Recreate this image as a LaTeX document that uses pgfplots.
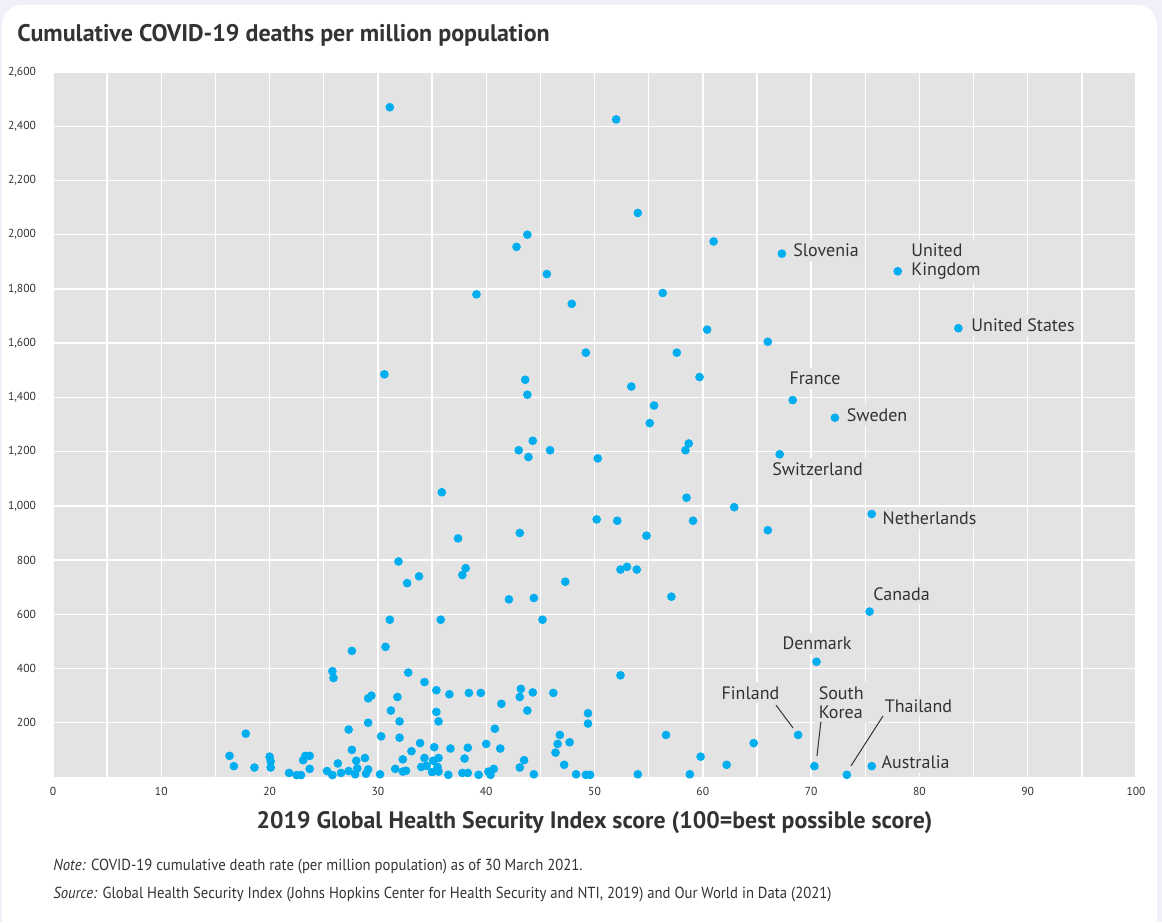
\documentclass[border=0pt]{standalone}
\usepackage{fontspec}
\setmainfont{PT Sans}
\newfontfamily\narrowfont[FakeStretch=0.92]{PT Sans}
\usepackage{pgfplots}
\pgfplotsset{compat=1.18}
\definecolor{plotbg}{RGB}{227,227,227}
\definecolor{dotblue}{RGB}{0,174,239}
\definecolor{txt}{RGB}{51,51,51}
\definecolor{framebg}{RGB}{240,240,248}
\tikzset{label node/.style={fill=plotbg, inner sep=2pt, text=txt, font=\fontsize{9}{9.6}\selectfont}}

\begin{document}
\begin{tikzpicture}[x=1pt,y=1pt]
% whole picture: 1162 x 922 px at 0.5pt per px, axis corner at px (53,777)
\useasboundingbox (-26.5,-72.5) rectangle (554.5,388.5);
\fill[framebg] (-26.5,-72.5) rectangle (554.5,388.5);
\fill[white, rounded corners=10pt] (-25.5,-80) rectangle (552,386);

\node[anchor=base west, inner sep=0, text=txt, font=\fontsize{12}{14}\selectfont\bfseries]
  at (-18,367.5) {Cumulative COVID-19 deaths per million population};

\begin{axis}[
  at={(0pt,0pt)}, anchor=south west,
  width=541.5pt, height=352.5pt, scale only axis,
  xmin=0, xmax=100, ymin=0, ymax=2600,
  axis background/.style={fill=plotbg},
  axis line style={draw=none},
  xtick={0,10,...,100},
  minor xtick={5,15,...,95},
  ytick={200,400,...,2600},
  grid=both,
  major grid style={white, line width=0.7pt},
  minor grid style={white, line width=0.7pt},
  major tick length=0pt, minor tick length=0pt,
  tick style={draw=none},
  tick label style={font=\fontsize{5.8}{6}\selectfont, text=txt},
  /pgf/number format/assume math mode=true,
  /pgf/number format/1000 sep={,},
  yticklabel style={xshift=-5pt},
  xticklabel style={yshift=-1.5pt},
  clip=false,
]

% labels first so the dots sit on top
\node[label node, anchor=west] at (axis cs:67.96,1943) {Slovenia};
\node[label node, anchor=west, align=left] at (axis cs:78.85,1901) {United\\Kingdom};
\node[label node, anchor=west] at (axis cs:84.4,1667) {United States};
\node[label node, anchor=west] at (axis cs:67.6,1471) {France};
\node[label node, anchor=west] at (axis cs:72.9,1335) {Sweden};
\node[label node] at (axis cs:70.6,1136) {Switzerland};
\node[label node, anchor=west] at (axis cs:76.2,955) {Netherlands};
\node[label node, anchor=west] at (axis cs:75.35,675) {Canada};
\node[label node] at (axis cs:70.55,494) {Denmark};
\node[label node] at (axis cs:64.4,310) {Finland};
\node[label node, anchor=west, align=left] at (axis cs:70.3,275) {South\\Korea};
\node[label node, anchor=west] at (axis cs:76.4,262) {Thailand};
\node[label node, anchor=west] at (axis cs:76.1,55) {Australia};

\draw[txt, line width=0.5pt] (axis cs:66.76,265) -- (axis cs:68.33,181);
\draw[txt, line width=0.5pt] (axis cs:70.9,203) -- (axis cs:70.54,77);
\draw[txt, line width=0.5pt] (axis cs:76.64,225) -- (axis cs:73.68,41);

\addplot[only marks, mark=*, mark size=1.95pt, color=dotblue,
  mark options={draw=none, fill=dotblue}] coordinates {
  % labelled countries
  (67.3,1930) (78.0,1865) (83.6,1655) (68.3,1390) (72.2,1325) (67.1,1190)
  (75.6,970) (75.4,610) (70.5,425) (68.8,155) (70.3,40) (73.3,8) (75.6,40)
  % upper part
  (31.1,2470) (52.0,2425) (54.0,2080) (61.0,1975) (43.8,2000) (42.8,1955)
  (45.6,1855) (39.1,1780) (47.9,1745) (56.3,1785) (60.4,1650) (49.2,1565)
  (57.6,1565) (66.0,1605) (30.6,1485) (43.6,1465) (53.4,1440) (59.7,1475)
  (43.8,1410) (55.5,1370) (55.1,1305) (44.3,1240) (58.7,1230) (43.0,1205)
  (45.9,1205) (58.4,1205) (43.9,1180) (50.3,1175) (35.9,1050) (58.5,1030)
  (62.9,995) (50.2,950) (52.1,945) (59.1,945) (66.0,910) (43.1,900)
  (54.8,890) (37.4,880) (31.9,795) (38.1,770) (37.8,745) (33.8,740)
  (32.7,715) (47.3,720) (52.4,765) (53.0,775) (53.9,765) (57.1,665)
  (42.1,655) (44.4,660) (31.1,580) (35.8,580) (45.2,580) (27.6,465)
  (30.7,480)
  % lower cluster, left
  (25.8,390) (25.9,365) (32.8,385) (34.3,350) (35.4,320) (29.4,300)
  (29.1,290) (31.8,295) (31.2,245) (35.4,240) (35.6,205) (29.1,200)
  (32.0,205) (27.3,175) (30.3,150) (32.0,145) (33.9,125) (35.2,110)
  (27.6,100) (33.1,95) (34.3,70) (32.3,65) (26.3,50) (28.0,60)
  (28.8,70) (35.1,60) (17.8,160) (16.3,78) (16.7,40) (18.6,35)
  (20.0,75) (20.1,58) (20.1,35) (21.8,15) (22.5,7) (22.9,7)
  (23.1,62) (23.3,78) (23.7,78) (23.7,30) (25.3,22) (25.8,7)
  (26.6,15) (27.3,22) (27.9,10) (28.1,32) (29.1,28) (28.9,12)
  (30.2,10) (31.6,30) (32.3,20) (32.6,23) (34.0,37) (34.5,41)
  (35.0,18) (35.5,37) (35.6,20)
  % lower cluster, right
  (52.4,375) (36.6,305) (38.4,310) (39.5,310) (43.2,325) (43.1,295)
  (44.3,312) (46.2,310) (41.4,270) (43.8,245) (49.4,235) (49.4,197)
  (40.8,178) (46.8,155) (46.6,122) (47.7,128) (46.4,90) (36.7,105)
  (38.3,108) (40.0,122) (41.3,105) (35.6,70) (38.0,68) (43.5,62)
  (43.1,35) (47.2,45) (36.5,8) (37.8,15) (38.3,15) (39.3,8)
  (40.2,20) (40.7,30) (40.4,8) (44.4,10) (48.3,10) (49.2,8)
  (49.6,8) (54.0,10) (56.6,155) (64.7,125) (59.8,75) (62.2,45)
  (58.8,10)
};
\end{axis}

\node[anchor=base, inner sep=0, text=txt, font=\fontsize{11.9}{13}\selectfont\bfseries]
  at (270.75,-25.5) {2019 Global Health Security Index score (100=best possible score)};
\node[anchor=base west, inner sep=0, text=txt, font=\narrowfont\fontsize{8}{10}\selectfont]
  at (0,-46.5) {\textit{Note:} COVID-19 cumulative death rate (per million population) as of 30 March 2021.};
\node[anchor=base west, inner sep=0, text=txt, font=\narrowfont\fontsize{8}{10}\selectfont]
  at (0,-60.5) {\textit{Source:} Global Health Security Index (Johns Hopkins Center for Health Security and NTI, 2019) and Our World in Data (2021)};
\end{tikzpicture}
\end{document}
